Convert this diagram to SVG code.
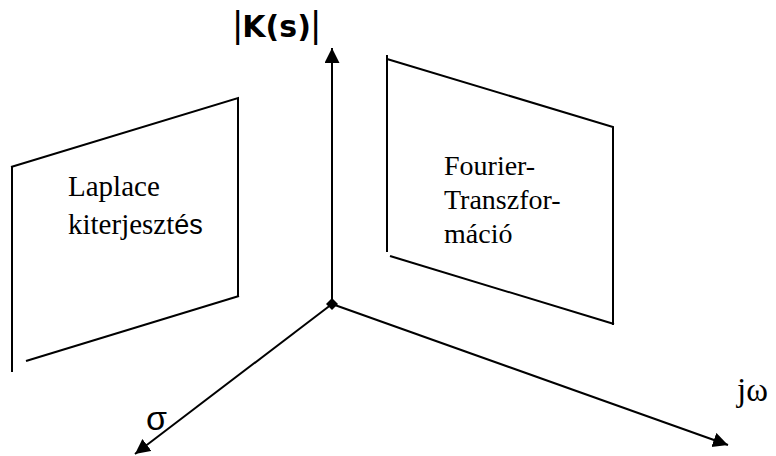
<svg xmlns="http://www.w3.org/2000/svg" width="776" height="456" viewBox="0 0 776 456">
  <style>
    .edge { fill: none; stroke: #000; stroke-width: 2; stroke-linecap: butt; }
    .axis { fill: none; stroke: #000; stroke-width: 2; }
    .serif { font-family: "Liberation Serif", "Times New Roman", serif; font-size: 28px; fill: #000; }
    .sans { font-family: "Liberation Sans", Arial, sans-serif; fill: #000; }
    .bold { font-family: "DejaVu Sans", Verdana, sans-serif; font-weight: bold; fill: #000; }
  </style>
  <defs>
    <marker id="arrow" markerUnits="userSpaceOnUse" markerWidth="16" markerHeight="16" refX="15" refY="7.5" orient="auto">
      <path d="M0,0 L15,7.5 L0,15 z" fill="#000"/>
    </marker>
  </defs>

  <!-- Laplace plane -->
  <g id="laplace">
    <path class="edge" d="M12,167 L12,372"/>
    <path class="edge" d="M11,167 L238,98 L238,296"/>
    <path class="edge" d="M26,361 L239,296"/>
    <text class="serif" x="68" y="196" style="font-size:29px">Laplace</text>
    <text class="serif" x="68" y="234" style="font-size:29px">kiterjeszt<tspan class="sans" style="font-size:27px">és</tspan></text>
  </g>

  <!-- Fourier plane -->
  <g id="fourier">
    <path class="edge" d="M387,55 L387,252"/>
    <path class="edge" d="M387,59 L613,127 L613,325"/>
    <path class="edge" d="M390,256 L614,324"/>
    <text class="serif" x="444" y="175">Fourier-</text>
    <text class="serif" x="444" y="209">Transzfor-</text>
    <text class="serif" x="444" y="243">máció</text>
  </g>

  <!-- Axes -->
  <g id="axes">
    <path class="axis" d="M332,304 L332,48" marker-end="url(#arrow)"/>
    <path class="axis" d="M332,304 L135,454" marker-end="url(#arrow)"/>
    <path class="axis" d="M332,304 L728,445" marker-end="url(#arrow)"/>
    <path d="M332,298 L338,304 L332,310 L326,304 z" fill="#000"/>
  </g>

  <!-- Axis labels -->
  <g id="labels">
    <text x="233" y="37"><tspan class="sans" style="font-size:36px">|</tspan><tspan class="bold" style="font-size:30px">K(s)</tspan><tspan class="sans" style="font-size:36px">|</tspan></text>
    <text class="sans" x="146" y="430" style="font-size:34px">σ</text>
    <text class="serif" x="737" y="401" style="font-size:33px">jω</text>
  </g>
</svg>
